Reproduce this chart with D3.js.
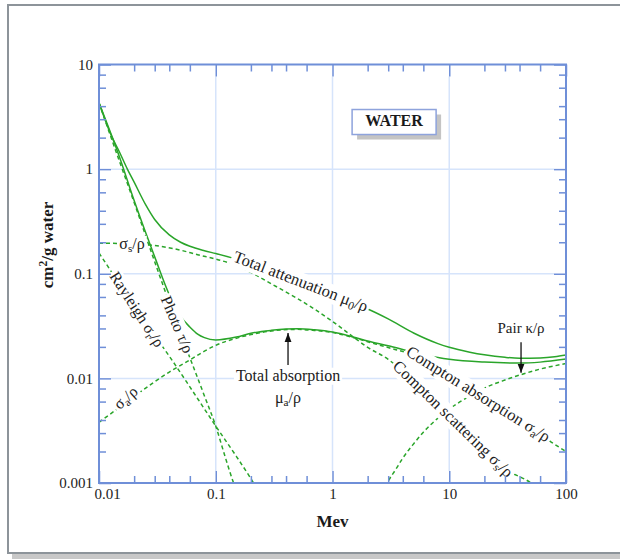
<!DOCTYPE html>
<html>
<head>
<meta charset="utf-8">
<script src="https://cdn.jsdelivr.net/npm/d3@7"></script>
<style>
  body { margin: 0; background: #fff; }
  svg { display: block; }
</style>
</head>
<body>
<div class="graph"></div>
<script>
let w = 620;
let h = 559;
let plotLeft = 99, plotRight = 566, plotTop = 64.5, plotBottom = 483;

let serif = '"Liberation Serif", "Times New Roman", serif';
let green = "#2aa52a";
let axisColor = "#6f8fd8";
let gridColor = "#d6e4fb";
let textColor = "#222";

// axis ticks
let xMajor = [0.01, 0.1, 1, 10, 100];
let xMajorLabels = ["0.01", "0.1", "1", "10", "100"];
let yMajor = [0.001, 0.01, 0.1, 1, 10];
let yMajorLabels = ["0.001", "0.01", "0.1", "1", "10"];
let xMinorSteps = [2, 3, 4, 6];
let yMinorSteps = [2, 3, 4, 6, 8];

// curves, [MeV, cm2/g]
let totalAttenuation = [[0.01, 4.3], [0.0125, 2.2], [0.015, 1.45], [0.0175, 1.0], [0.02, 0.75], [0.025, 0.46],
  [0.03, 0.33], [0.04, 0.235], [0.05, 0.2], [0.06, 0.183], [0.08, 0.166], [0.1, 0.156], [0.15, 0.138],
  [0.2, 0.125], [0.3, 0.108], [0.5, 0.087], [0.8, 0.07], [1, 0.063], [1.5, 0.052], [2, 0.046], [3, 0.037],
  [5, 0.027], [8, 0.0215], [10, 0.0198], [15, 0.0178], [20, 0.0168], [30, 0.0159], [40, 0.0156],
  [60, 0.0157], [80, 0.0161], [100, 0.0167]];
let totalAbsorption = [[0.01, 4.3], [0.015, 1.3], [0.02, 0.5], [0.025, 0.25], [0.03, 0.145], [0.04, 0.063],
  [0.05, 0.039], [0.06, 0.031], [0.07, 0.0265], [0.08, 0.0245], [0.1, 0.0233], [0.15, 0.0248], [0.2, 0.027],
  [0.3, 0.0288], [0.4, 0.0296], [0.5, 0.0298], [0.7, 0.0291], [1, 0.0277], [1.5, 0.0249], [2, 0.0228],
  [3, 0.0205], [5, 0.0177], [8, 0.0158], [10, 0.0152], [20, 0.0143], [40, 0.014], [60, 0.0143], [100, 0.0153]];
let photo = [[0.01, 4.3], [0.015, 1.18], [0.02, 0.48], [0.03, 0.13], [0.04, 0.053], [0.05, 0.027],
  [0.06, 0.0158], [0.08, 0.0068], [0.1, 0.0035], [0.12, 0.0018], [0.14, 0.00105], [0.15, 0.00085]];
let rayleigh = [[0.01, 0.158], [0.015, 0.08], [0.02, 0.05], [0.03, 0.0257], [0.04, 0.0163], [0.06, 0.0083],
  [0.08, 0.0051], [0.1, 0.0035], [0.15, 0.0018], [0.2, 0.0011], [0.23, 0.00085]];
let comptonScattering = [[0.01, 0.196], [0.02, 0.193], [0.03, 0.186], [0.05, 0.168], [0.07, 0.152],
  [0.1, 0.138], [0.15, 0.12], [0.2, 0.103], [0.3, 0.08], [0.5, 0.058], [0.7, 0.046], [1, 0.035],
  [1.5, 0.025], [2, 0.0198], [3, 0.0152], [5, 0.0092], [10, 0.0044], [20, 0.0019], [30, 0.00135],
  [50, 0.001], [55, 0.00092]];
let comptonAbsorption = [[0.01, 0.0038], [0.015, 0.0053], [0.02, 0.0067], [0.03, 0.0093], [0.04, 0.0115],
  [0.06, 0.015], [0.08, 0.0182], [0.1, 0.0207], [0.15, 0.0242], [0.2, 0.0262], [0.3, 0.0284], [0.5, 0.0294],
  [0.7, 0.0287], [1, 0.0274], [1.5, 0.0246], [2, 0.0224], [3, 0.0197], [5, 0.0165], [8, 0.0122],
  [10, 0.0104], [20, 0.0067], [30, 0.005], [50, 0.0035], [70, 0.0026], [100, 0.002]];
let pair = [[2.85, 0.00092], [2.95, 0.001], [3.5, 0.00136], [4, 0.00173], [5, 0.0024], [6, 0.00306],
  [8, 0.00417], [10, 0.00508], [15, 0.00678], [20, 0.00807], [30, 0.00964], [40, 0.01075],
  [60, 0.01227], [100, 0.01384]];

let series = [
  { data: totalAttenuation, dashed: false },
  { data: totalAbsorption, dashed: false },
  { data: photo, dashed: true },
  { data: rayleigh, dashed: true },
  { data: comptonScattering, dashed: true },
  { data: comptonAbsorption, dashed: true },
  { data: pair, dashed: true }
];

// labels on the curves: text parts, [MeV, value], angle, font size
let curveLabels = [
  { parts: [["σ"], ["s", "sub"], ["/ρ"]], at: [0.0192, 0.188], angle: 0, size: 16 },
  { parts: [["σ"], ["a", "sub"], ["/ρ"]], at: [0.0172, 0.0064], angle: -42, size: 16 },
  { parts: [["Rayleigh σ"], ["r", "sub"], ["/ρ"]], at: [0.0207, 0.045], angle: 57, size: 16 },
  { parts: [["Photo τ/ρ"]], at: [0.0457, 0.0324], angle: 67, size: 16 },
  { parts: [["Total attenuation μ"], ["0", "sub"], ["/ρ"]], at: [0.53, 0.082], angle: 21, size: 16.5 },
  { parts: [["Compton absorption σ"], ["a", "sub"], ["/ρ"]], at: [17.5, 0.0069], angle: 32, size: 16.5 },
  { parts: [["Compton scattering σ"], ["s", "sub"], ["/ρ"]], at: [10.6, 0.004], angle: 44, size: 16.5 },
  { parts: [["Total absorption"]], at: [0.416, 0.0103], angle: 0, size: 16 },
  { parts: [["μ"], ["a", "sub"], ["/ρ"]], at: [0.416, 0.0063], angle: 0, size: 16 },
  { parts: [["Pair κ/ρ"]], at: [41.2, 0.029], angle: 0, size: 15 }
];
let arrows = [
  { from: [0.416, 0.0134], to: [0.416, 0.0272] },
  { from: [41.2, 0.0222], to: [41.2, 0.0113] }
];
let boxLabel = { text: "WATER", at: [3.37, 2.82] };

let svg = d3.select(".graph").append("svg").attr("width", w).attr("height", h);

// outer frame with shadow
svg.append("rect").attr("x", 12).attr("y", 9).attr("width", w).attr("height", 552).attr("fill", "#c8c8c8");
svg.append("rect").attr("x", 8).attr("y", 5).attr("width", w).attr("height", 548)
  .attr("fill", "#fff").attr("stroke", "#8d949a").attr("stroke-width", 2);

let x = d3.scaleLog().domain([0.01, 100]).range([plotLeft, plotRight]);
let y = d3.scaleLog().domain([0.001, 10]).range([plotBottom, plotTop]);

let xMinor = xMajor.slice(0, -1).flatMap(d => xMinorSteps.map(s => d * s));
let yMinor = yMajor.slice(0, -1).flatMap(d => yMinorSteps.map(s => d * s));

// grid
svg.append("g").selectAll("line").data(xMajor.slice(1, -1)).join("line")
  .attr("x1", d => x(d)).attr("x2", d => x(d))
  .attr("y1", plotTop + 12).attr("y2", plotBottom - 12)
  .attr("stroke", gridColor).attr("stroke-width", 1.5);
svg.append("g").selectAll("line").data(yMajor.slice(1, -1)).join("line")
  .attr("y1", d => y(d)).attr("y2", d => y(d))
  .attr("x1", plotLeft + 12).attr("x2", plotRight - 12)
  .attr("stroke", gridColor).attr("stroke-width", 1.5);

// curves
svg.append("clipPath").attr("id", "plot").append("rect")
  .attr("x", plotLeft).attr("y", plotTop).attr("width", plotRight - plotLeft).attr("height", plotBottom - plotTop);

let line = d3.line().x(d => x(d[0])).y(d => y(d[1])).curve(d3.curveMonotoneX);
svg.append("g").attr("clip-path", "url(#plot)")
  .selectAll("path").data(series).join("path")
  .attr("d", d => line(d.data))
  .attr("fill", "none")
  .attr("stroke", green)
  .attr("stroke-width", 1.5)
  .attr("stroke-dasharray", d => d.dashed ? "4,3" : null);

// curve labels with white backing
let labels = svg.append("g").attr("font-family", serif).attr("fill", textColor);
curveLabels.forEach(function (lab) {
  let g = labels.append("g")
    .attr("transform", "translate(" + x(lab.at[0]) + "," + y(lab.at[1]) + ") rotate(" + lab.angle + ")");
  let t = g.append("text").attr("font-size", lab.size)
    .attr("text-anchor", "middle").attr("dominant-baseline", "middle");
  let shifted = false;
  lab.parts.forEach(function (p) {
    let sp = t.append("tspan").text(p[0]);
    if (p[1] === "sub") {
      sp.attr("font-size", lab.size * 0.7).attr("dy", 4);
      shifted = true;
    } else if (shifted) {
      sp.attr("dy", -4);
      shifted = false;
    }
  });
  let bb = t.node().getBBox();
  g.insert("rect", "text")
    .attr("x", bb.x - 2).attr("y", bb.y + 1)
    .attr("width", bb.width + 4).attr("height", bb.height - 1)
    .attr("fill", "#fff");
});

// arrows
let defs = svg.append("defs");
defs.append("marker").attr("id", "arrow")
  .attr("viewBox", "0 0 10 10").attr("refX", 10).attr("refY", 5)
  .attr("markerWidth", 9).attr("markerHeight", 9)
  .attr("markerUnits", "userSpaceOnUse").attr("orient", "auto")
  .append("path").attr("d", "M0,1.2 L10,5 L0,8.8 Z").attr("fill", "#111");
svg.append("g").selectAll("line").data(arrows).join("line")
  .attr("x1", d => x(d.from[0])).attr("y1", d => y(d.from[1]))
  .attr("x2", d => x(d.to[0])).attr("y2", d => y(d.to[1]))
  .attr("stroke", "#111").attr("stroke-width", 1.3)
  .attr("marker-end", "url(#arrow)");

// WATER box
let bx = x(boxLabel.at[0]), by = y(boxLabel.at[1]);
svg.append("rect").attr("x", bx - 42 + 5).attr("y", by - 12.5 + 5).attr("width", 84).attr("height", 25)
  .attr("fill", "#c4c4c4");
svg.append("rect").attr("x", bx - 42).attr("y", by - 12.5).attr("width", 84).attr("height", 25)
  .attr("fill", "#fff").attr("stroke", "#8ea3dc").attr("stroke-width", 1.5);
svg.append("text").attr("x", bx).attr("y", by).attr("text-anchor", "middle").attr("dominant-baseline", "middle")
  .attr("font-family", serif).attr("font-size", 16).attr("font-weight", "bold").attr("fill", "#1a1a1a")
  .text(boxLabel.text);

// axes, ticks pointing inward
function styleAxis(g) {
  g.attr("font-family", serif).attr("font-size", 15);
  g.select(".domain").remove();
  g.selectAll("line").attr("stroke", axisColor).attr("stroke-width", 1.5);
  g.selectAll("text").attr("fill", textColor);
}
let xAxis = d3.axisBottom(x).tickValues(xMajor).tickSize(-12).tickPadding(5)
  .tickFormat((d, i) => xMajorLabels[i]);
svg.append("g").attr("transform", "translate(0," + plotBottom + ")").call(xAxis).call(styleAxis)
  .selectAll("text").filter((d, i) => i === 0).attr("dx", 8);
svg.append("g").attr("transform", "translate(0," + plotBottom + ")")
  .call(d3.axisBottom(x).tickValues(xMinor).tickSize(-7).tickFormat("")).call(styleAxis);
svg.append("g").attr("transform", "translate(0," + plotTop + ")")
  .call(d3.axisTop(x).tickValues(xMajor).tickSize(-12).tickFormat("")).call(styleAxis);
svg.append("g").attr("transform", "translate(0," + plotTop + ")")
  .call(d3.axisTop(x).tickValues(xMinor).tickSize(-7).tickFormat("")).call(styleAxis);

let yAxis = d3.axisLeft(y).tickValues(yMajor).tickSize(-12).tickPadding(6)
  .tickFormat((d, i) => yMajorLabels[i]);
svg.append("g").attr("transform", "translate(" + plotLeft + ",0)").call(yAxis).call(styleAxis);
svg.append("g").attr("transform", "translate(" + plotLeft + ",0)")
  .call(d3.axisLeft(y).tickValues(yMinor).tickSize(-7).tickFormat("")).call(styleAxis);
svg.append("g").attr("transform", "translate(" + plotRight + ",0)")
  .call(d3.axisRight(y).tickValues(yMajor).tickSize(-12).tickFormat("")).call(styleAxis);
svg.append("g").attr("transform", "translate(" + plotRight + ",0)")
  .call(d3.axisRight(y).tickValues(yMinor).tickSize(-7).tickFormat("")).call(styleAxis);

svg.append("rect").attr("x", plotLeft).attr("y", plotTop)
  .attr("width", plotRight - plotLeft).attr("height", plotBottom - plotTop)
  .attr("fill", "none").attr("stroke", axisColor).attr("stroke-width", 2);

// axis titles
svg.append("text").attr("x", (plotLeft + plotRight) / 2).attr("y", 527).attr("text-anchor", "middle")
  .attr("font-family", serif).attr("font-size", 17).attr("font-weight", "bold").attr("fill", "#1a1a1a")
  .text("Mev");
let yt = svg.append("text").attr("transform", "translate(53,245) rotate(-90)").attr("text-anchor", "middle")
  .attr("font-family", serif).attr("font-size", 17).attr("font-weight", "bold").attr("fill", "#1a1a1a");
yt.append("tspan").text("cm");
yt.append("tspan").text("2").attr("font-size", 11.5).attr("dy", -6);
yt.append("tspan").text("/g water").attr("dy", 6);
</script>
</body>
</html>
